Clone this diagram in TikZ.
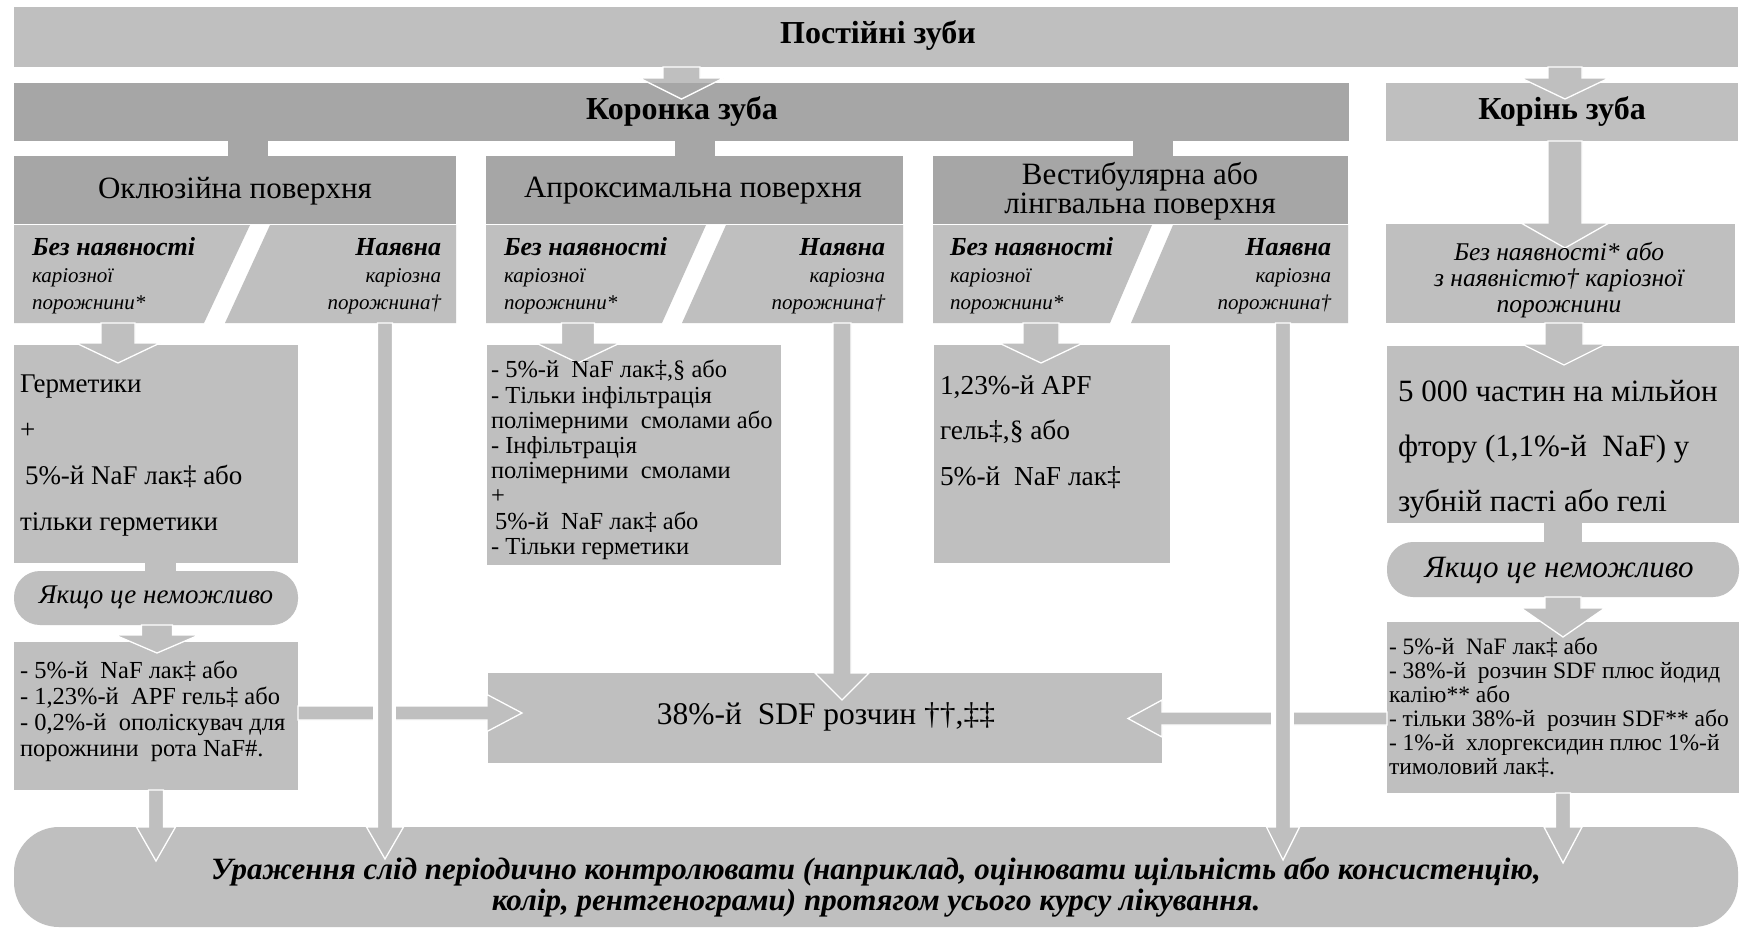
\documentclass[tikz,border=0pt]{standalone}
\usepackage{fontspec}
\setmainfont{Liberation Serif}
\usetikzlibrary{calc}
\definecolor{lg}{HTML}{BFBFBF}
\definecolor{dg}{HTML}{A6A6A6}
\tikzset{
  boxL/.style={fill=lg, draw=none, inner sep=0pt, outer sep=0pt, anchor=north west},
  boxD/.style={fill=dg, draw=none, inner sep=0pt, outer sep=0pt, anchor=north west},
  piece/.style={fill=lg},
  arr/.style={fill=lg, draw=white, line width=1.3pt, line join=miter},
  stemD/.style={fill=dg},
  stemL/.style={fill=lg},
  gap/.style={fill=white},
  txt/.style={inner sep=0pt, outer sep=0pt, text=black},
  ptxt/.style={txt, font=\itshape\fs{21}{27}},
}
\newcommand\fs[2]{\fontsize{#1}{#2}\selectfont}
\newcommand\bl[1]{{\bfseries\fs{26}{27}#1}}
\newcommand\rbox[6]{\node[#1, minimum width={#5pt-#3pt}, minimum height={#6pt-#4pt}] (#2) at (#3,#4) {};}
% down arrow: start, tip, stem half, head half, head length
\newcommand\arrD[5]{\path[arr] ($(#1)+(-#3,0)$) -- ($(#2)+(-#3,-#5)$) -- ($(#2)+(-#4,-#5)$) -- (#2) -- ($(#2)+(#4,-#5)$) -- ($(#2)+(#3,-#5)$) -- ($(#1)+(#3,0)$) -- cycle;}
\newcommand\arrR[5]{\path[arr] ($(#1)+(0,-#3)$) -- ($(#2)+(-#5,-#3)$) -- ($(#2)+(-#5,-#4)$) -- (#2) -- ($(#2)+(-#5,#4)$) -- ($(#2)+(-#5,#3)$) -- ($(#1)+(0,#3)$) -- cycle;}
\newcommand\arrL[5]{\path[arr] ($(#1)+(0,-#3)$) -- ($(#2)+(#5,-#3)$) -- ($(#2)+(#5,-#4)$) -- (#2) -- ($(#2)+(#5,#4)$) -- ($(#2)+(#5,#3)$) -- ($(#1)+(0,#3)$) -- cycle;}
\newcommand\stemV[4]{\path[#4] ($(#1)+(-#3,0)$) rectangle ($(#2)+(#3,0)$);}
\begin{document}
\begin{tikzpicture}[x=1pt,y=-1pt]
\useasboundingbox (0,0) rectangle (1744,929);
\fill[white] (0,0) rectangle (1744,929);
% boxes
\rbox{boxL}{top}{14}{7}{1738}{67}
\rbox{boxD}{kor}{14}{83}{1349}{141}
\rbox{boxL}{kor2}{1386}{83}{1738}{141}
\rbox{boxD}{okl}{14}{156}{456}{224}
\rbox{boxD}{apr}{486}{156}{903}{224}
\rbox{boxD}{ves}{933}{156}{1348}{224}
\rbox{boxL}{ksub}{1386}{224}{1735}{323}
\rbox{boxL}{herm}{14}{345}{298}{563}
\rbox{boxL,rounded corners=26pt}{ifl}{14}{571}{298}{625}
\rbox{boxL}{llast}{14}{642}{298}{790}
\rbox{boxL}{acont}{487}{345}{781}{565}
\rbox{boxL}{vcont}{934}{345}{1170}{563}
\rbox{boxL}{rcont}{1387}{346}{1739}{523}
\rbox{boxL,rounded corners=26pt}{ifr}{1387}{542}{1739}{597}
\rbox{boxL}{rlast}{1387}{622}{1739}{793}
\rbox{boxL}{sdf}{488}{673}{1162}{763}
\rbox{boxL,rounded corners=45pt}{oval}{14}{827}{1738}{927}
% pieces
\fill[piece] (14,225) -- (250,225) -- (204,323) -- (14,323) -- cycle;
\fill[piece] (270,225) -- (456,225) -- (456,323) -- (225,323) -- cycle;
\fill[piece] (486,225) -- (706,225) -- (662,323) -- (486,323) -- cycle;
\fill[piece] (726,225) -- (903,225) -- (903,323) -- (682,323) -- cycle;
\fill[piece] (933,225) -- (1152,225) -- (1110,323) -- (933,323) -- cycle;
\fill[piece] (1173,225) -- (1348,225) -- (1348,323) -- (1131,323) -- cycle;
\coordinate (okl-l-out) at (118,323);
\coordinate (okl-r-out) at (385,323);
\coordinate (apr-l-out) at (578,323);
\coordinate (apr-r-out) at (842,323);
\coordinate (ves-l-out) at (1041,323);
\coordinate (ves-r-out) at (1283,323);
% A1 top -> kor
\coordinate (a1s) at (top.south -| kor.north);
\coordinate (a1t) at ($(a1s |- kor.north)+(0,16)$);
\arrD{a1s}{a1t}{18.5}{42}{21}
\begin{scope}
\clip (kor.north west) rectangle (kor.south east);
\fill[dg] ($(a1t)+(-42,-21)$) -- (a1t) -- ($(a1t)+(42,-21)$) -- cycle;
\draw[white, line width=1.3pt] ($(a1t)+(-42,-21)$) -- (a1t) -- ($(a1t)+(42,-21)$);
\end{scope}
% A2 top -> kor2
\coordinate (a2s) at ($(top.south -| kor2.north)+(3,0)$);
\coordinate (a2t) at ($(a2s |- kor2.north)+(0,16)$);
\arrD{a2s}{a2t}{17}{44}{21}
% stems kor -> surfaces
\coordinate (s1s) at ($(kor.south -| okl.north)+(13,0)$);
\coordinate (s1t) at (s1s |- okl.north);
\stemV{s1s}{s1t}{20}{stemD}
\coordinate (s2s) at (kor.south -| apr.north);
\coordinate (s2t) at (s2s |- apr.north);
\stemV{s2s}{s2t}{20}{stemD}
\coordinate (s3s) at ($(kor.south -| ves.north)+(12,0)$);
\coordinate (s3t) at (s3s |- ves.north);
\stemV{s3s}{s3t}{20}{stemD}
% A3 kor2 -> ksub
\coordinate (a3s) at (a2s |- kor2.south);
\coordinate (a3t) at ($(a3s |- ksub.north)+(0,24)$);
\arrD{a3s}{a3t}{17}{44}{25}
% horizontal arrows to SDF
\coordinate (a17s) at ($(llast.east)+(0,-3)$);
\coordinate (a17t) at ($(sdf.west |- a17s)+(34,0)$);
\arrR{a17s}{a17t}{7}{18.5}{35}
\fill[gap] ($(okl-r-out |- a17s)+(-12,-10)$) rectangle ($(okl-r-out |- a17s)+(11,10)$);
\coordinate (a18s) at ($(rlast.west)+(0,11)$);
\coordinate (a18t) at ($(sdf.east |- a18s)+(-34,0)$);
\arrL{a18s}{a18t}{6.5}{18.5}{34}
\fill[gap] ($(ves-r-out |- a18s)+(-12,-10)$) rectangle ($(ves-r-out |- a18s)+(11,10)$);
% A4 okl-l -> herm
\coordinate (a4t) at ($(okl-l-out |- herm.north)+(0,18)$);
\arrD{okl-l-out}{a4t}{17}{42}{20}
% A5 herm -> ifl
\coordinate (a5s) at ($(herm.south)+(4.5,0)$);
\coordinate (a5t) at (a5s |- ifl.north);
\stemV{a5s}{a5t}{15.5}{stemL}
% A6 ifl -> llast
\coordinate (a6s) at ($(ifl.south)+(1,0)$);
\coordinate (a6t) at ($(a6s |- llast.north)+(0,11)$);
\arrD{a6s}{a6t}{15.5}{42}{18}
% A7 llast -> oval
\coordinate (a7s) at (llast.south);
\coordinate (a7t) at ($(a7s |- oval.north)+(0,34)$);
\arrD{a7s}{a7t}{7.5}{19.5}{34}
% A8 okl-r -> oval
\coordinate (a8t) at ($(okl-r-out |- oval.north)+(0,32)$);
\arrD{okl-r-out}{a8t}{7.5}{18.5}{32}
% A9 apr-l -> acont
\coordinate (a9t) at ($(apr-l-out |- acont.north)+(0,18)$);
\arrD{apr-l-out}{a9t}{16.5}{42}{20}
% A10 apr-r -> sdf
\coordinate (a10t) at ($(apr-r-out |- sdf.north)+(0,27)$);
\arrD{apr-r-out}{a10t}{9}{27}{27}
% A11 ves-l -> vcont
\coordinate (a11t) at ($(ves-l-out |- vcont.north)+(0,18)$);
\arrD{ves-l-out}{a11t}{18}{42}{20}
% A12 ves-r -> oval
\coordinate (a12t) at ($(ves-r-out |- oval.north)+(0,33)$);
\arrD{ves-r-out}{a12t}{7.5}{16.5}{33}
% A13 ksub -> rcont
\coordinate (a13s) at ($(ksub.south)+(3.5,0)$);
\coordinate (a13t) at ($(a13s |- rcont.north)+(0,19)$);
\arrD{a13s}{a13t}{19}{42}{21}
% A14 rcont -> ifr
\coordinate (a14s) at (rcont.south);
\coordinate (a14t) at (a14s |- ifr.north);
\stemV{a14s}{a14t}{19}{stemL}
% A15 ifr -> rlast
\coordinate (a15s) at (ifr.south);
\coordinate (a15t) at ($(a15s |- rlast.north)+(0,15)$);
\arrD{a15s}{a15t}{18}{42}{29}
% A16 rlast -> oval
\coordinate (a16s) at (rlast.south);
\coordinate (a16t) at ($(a16s |- oval.north)+(0,36)$);
\arrD{a16s}{a16t}{7.5}{19}{36}
% texts
\node[txt, font=\bfseries\fs{32}{34}] (t-top) at (878,35) {Постійні зуби};
\node[txt, font=\bfseries\fs{32}{34}] (t-kor) at (682,111) {Коронка зуба};
\node[txt, font=\bfseries\fs{32}{34}] (t-kor2) at (1562,111) {Корінь зуба};
\node[txt, font=\fs{31}{32}] (t-okl) at (235,191) {Оклюзійна поверхня};
\node[txt, font=\fs{31}{32}] (t-apr) at (693,191) {Апроксимальна поверхня};
\node[txt, font=\fs{31}{29}, align=center] (t-ves) at (1140,191) {Вестибулярна або\\лінгвальна поверхня};
\node[ptxt, align=left, anchor=west] (t-okl-l) at (32,276) {\bl{Без наявності}\\каріозної\\порожнини*};
\node[ptxt, align=right, anchor=east] (t-okl-r) at (441,276) {\bl{Наявна}\\каріозна\\порожнина†};
\node[ptxt, align=left, anchor=west] (t-apr-l) at (504,276) {\bl{Без наявності}\\каріозної\\порожнини*};
\node[ptxt, align=right, anchor=east] (t-apr-r) at (885,276) {\bl{Наявна}\\каріозна\\порожнина†};
\node[ptxt, align=left, anchor=west] (t-ves-l) at (950,276) {\bl{Без наявності}\\каріозної\\порожнини*};
\node[ptxt, align=right, anchor=east] (t-ves-r) at (1331,276) {\bl{Наявна}\\каріозна\\порожнина†};
\node[txt, font=\itshape\fs{25.5}{26}, align=center] (t-ksub) at (1559,280) {Без наявності* або\\з наявністю† каріозної\\порожнини};
\node[txt, font=\fs{27}{46}, align=left, anchor=west] (t-herm) at (20,456) {Герметики\\+\\\hspace*{5pt}5\%-й NaF лак‡ або\\тільки герметики};
\node[txt, font=\itshape\fs{27}{28}] (t-ifl) at (156,597) {Якщо це неможливо};
\node[txt, font=\fs{24.5}{26}, align=left, anchor=west] (t-llast) at (20,711) {- 5\%-й\ \ NaF лак‡ або\\- 1,23\%-й\ \ APF гель‡ або\\- 0,2\%-й\ \ ополіскувач для\\порожнини\ \ рота NaF\#.};
\node[txt, font=\fs{24.5}{25.2}, align=left, anchor=west] (t-acont) at (491,460) {- 5\%-й\ \ NaF лак‡,§ або\\- Тільки інфільтрація\\полімерними\ \ смолами або\\- Інфільтрація\\полімерними\ \ смолами\\+\\\hspace*{4pt}5\%-й\ \ NaF лак‡ або\\- Тільки герметики};
\node[txt, font=\fs{27.4}{45.5}, align=left, anchor=west] (t-vcont) at (940,432) {1,23\%-й APF\\гель‡,§ або\\5\%-й\ \ NaF лак‡};
\node[txt, font=\fs{31}{55}, align=left, anchor=west] (t-rcont) at (1398,449) {5 000 частин на мільйон\\фтору (1,1\%-й\ \ NaF) у\\зубній пасті або гелі};
\node[txt, font=\itshape\fs{31}{32}] (t-ifr) at (1559,570) {Якщо це неможливо};
\node[txt, font=\fs{23.5}{24}, align=left, anchor=west] (t-rlast) at (1389,707) {- 5\%-й\ \ NaF лак‡ або\\- 38\%-й\ \ розчин SDF плюс йодид\\калію** або\\- тільки 38\%-й\ \ розчин SDF** або\\- 1\%-й\ \ хлоргексидин плюс 1\%-й\\тимоловий лак‡.};
\node[txt, font=\fs{31.5}{32}] (t-sdf) at (826,717) {38\%-й\ \ SDF розчин ††,‡‡};
\node[txt, font=\bfseries\itshape\fs{31}{31}, align=center] (t-oval) at (876,887) {Ураження слід періодично контролювати (наприклад, оцінювати щільність або консистенцію,\\колір, рентгенограми) протягом усього курсу лікування.};
\end{tikzpicture}
\end{document}
